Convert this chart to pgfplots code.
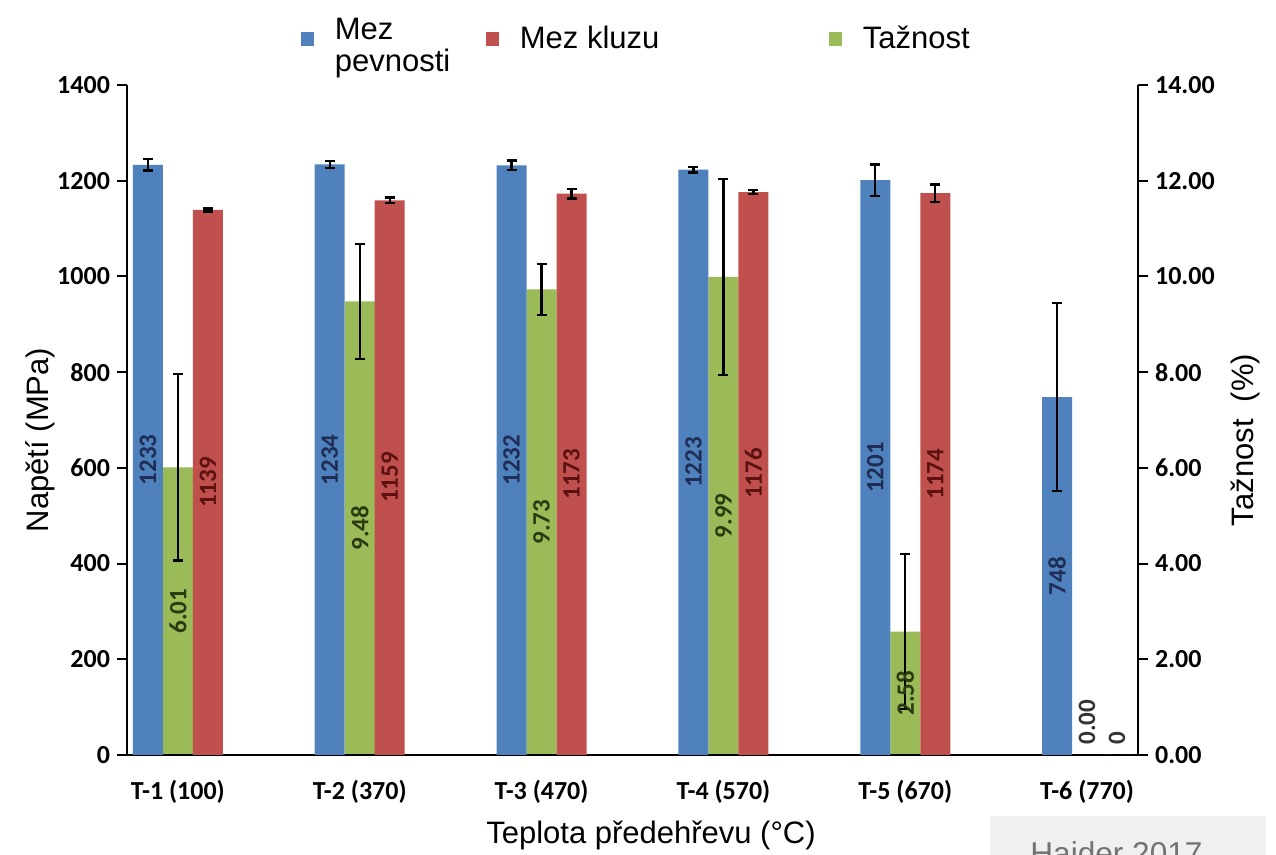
\documentclass[border=0pt]{standalone}
\usepackage{pgfplots}
\pgfplotsset{compat=1.18}
\usepackage{pgfplotstable}
\usepackage{fontspec}
\setmainfont{Liberation Sans}
\newfontfamily\carlito{Carlito}

\definecolor{cblue}{HTML}{4F81BD}
\definecolor{cred}{HTML}{C0504D}
\definecolor{cgreen}{HTML}{9BBB59}
\definecolor{lblue}{HTML}{1F2D55}
\definecolor{lred}{HTML}{5C1210}
\definecolor{lgreen}{HTML}{2B3A12}

% Mez pevnosti (MPa)
\pgfplotstableread{
x y err
0 1233 12
1 1234 7
2 1232 10
3 1223 6
4 1201 33
5 748 197
}\pevnost
% Mez kluzu (MPa)
\pgfplotstableread{
x y err
0 1139 3
1 1159 6
2 1173 10
3 1176 4
4 1174 18
5 0 0
}\kluz
% Taznost (%)
\pgfplotstableread{
x y err
0 6.01 1.95
1 9.48 1.20
2 9.73 0.53
3 9.99 2.05
4 2.58 1.62
5 0.00 0
}\taznost

\pgfplotsset{
  base/.style={scale only axis, width=505.5pt, height=335pt,
    xmin=-0.28, xmax=5.28, ymin=0, ybar, bar width=15pt,
    tick align=outside, major tick length=5pt,
    axis line style={line width=1pt, -},
    tick style={line width=1pt, black},
    tick label style={font=\carlito\bfseries\fontsize{13}{13}\selectfont},
    /pgf/number format/assume math mode=true, clip=false},
  errs/.style={error bars/.cd, y dir=both, y explicit,
    error bar style={line width=1.2pt, black},
    error mark options={rotate=90, mark size=2.5pt, line width=1.2pt, black}},
  lab/.style n args={2}{draw=none, fill=none, forget plot, bar shift=#1, point meta=\thisrow{y},
    unbounded coords=discard, y filter/.expression={y<=0 ? nan : y/2},
    nodes near coords,
    every node near coord/.append style={rotate=90, anchor=center, inner sep=0pt,
      text=#2, font=\carlito\bfseries\fontsize{12.5}{12.5}\selectfont}},
  zlab/.style={draw=none, fill=none, forget plot, bar shift=#1, point meta=\thisrow{y},
    unbounded coords=discard, y filter/.expression={y>0 ? nan : y},
    nodes near coords,
    every node near coord/.append style={yshift=5pt, rotate=90, anchor=west, inner sep=0pt,
      text=black!80, font=\carlito\bfseries\fontsize{12.5}{12.5}\selectfont}},
}

\begin{document}
\begin{tikzpicture}
% right axis: Taznost
\begin{axis}[base,
  axis y line*=right, axis x line=none, xtick=\empty,
  ymax=14, ytick={0,2,...,14},
  yticklabel style={/pgf/number format/.cd, fixed, fixed zerofill, precision=2},
]
\addplot[fill=cgreen, draw=none, bar shift=0pt, errs]
  table[x=x, y=y, y error=err]{\taznost};
\addplot[lab={0pt}{lgreen}, /pgf/number format/.cd, fixed, fixed zerofill, precision=2]
  table[x=x, y=y]{\taznost};
\addplot[zlab=0pt, /pgf/number format/.cd, fixed, fixed zerofill, precision=2]
  table[x=x, y=y]{\taznost};
\end{axis}

% left axis: Napeti
\begin{axis}[base,
  axis y line*=left, axis x line*=bottom,
  ymax=1400, ytick={0,200,...,1400},
  yticklabel style={/pgf/number format/1000 sep={}},
  xtick={0,...,5},
  xticklabels={T-1 (100),T-2 (370),T-3 (470),T-4 (570),T-5 (670),T-6 (770)},
  xtick style={draw=none},
  xticklabel style={yshift=-4pt},
  legend columns=3,
  legend style={draw=none, fill=none, inner sep=0pt, outer sep=0pt,
    at={(rel axis cs:0.172,1.0687)}, anchor=west,
    font=\fontsize{15.5}{15}\selectfont,
    nodes={inner sep=0pt},
    /tikz/every odd column/.append style={column sep=10.5pt},
    /tikz/every even column/.append style={column sep=0pt}},
  legend image code/.code={\fill[#1] (0pt,-3.5pt) rectangle (6.5pt,3.5pt);},
]
\addplot[fill=cblue, draw=none, bar shift=-15pt, errs]
  table[x=x, y=y, y error=err]{\pevnost};
\addlegendentry{\makebox[75.5pt][l]{\begin{tabular}{@{}l@{}}Mez\\pevnosti\end{tabular}}}
\addplot[fill=cred, draw=none, bar shift=15pt, errs]
  table[x=x, y=y, y error=err]{\kluz};
\addlegendentry{\makebox[154.5pt][l]{Mez kluzu}}
\addlegendimage{fill=cgreen, draw=none}
\addlegendentry{Tažnost}

\addplot[lab={-15pt}{lblue}, /pgf/number format/1000 sep={}] table[x=x, y=y]{\pevnost};
\addplot[lab={15pt}{lred}, /pgf/number format/1000 sep={}] table[x=x, y=y]{\kluz};
\addplot[zlab=15pt, /pgf/number format/1000 sep={}] table[x=x, y=y]{\kluz};
\coordinate (bl) at (rel axis cs:0,0);
\end{axis}

\begin{scope}[shift={(bl)}, xshift=-63.5pt, yshift=377.5pt, x=0.5pt, y=-0.5pt]
  \node[rotate=90, font=\fontsize{15.5}{18}\selectfont] at (40,440) {Napětí (MPa)};
  \node[rotate=90, font=\fontsize{15.5}{18}\selectfont] at (1245,440) {Tažnost\ \ (\%)};
  \node[font=\fontsize{15.5}{18}\selectfont] at (651,835) {Teplota předehřevu (°C)};
  \fill[black!6] (990,816) rectangle (1266,900);
  \node[anchor=base west, inner sep=0pt, text=black!55, font=\fontsize{15.8}{18}\selectfont]
    at (1030,865) {Haider 2017};
\end{scope}
\pgfresetboundingbox
\path[shift={(bl)}, xshift=-63.5pt, yshift=377.5pt, x=0.5pt, y=-0.5pt] (0,0) rectangle (1276,855);
\end{tikzpicture}
\end{document}
